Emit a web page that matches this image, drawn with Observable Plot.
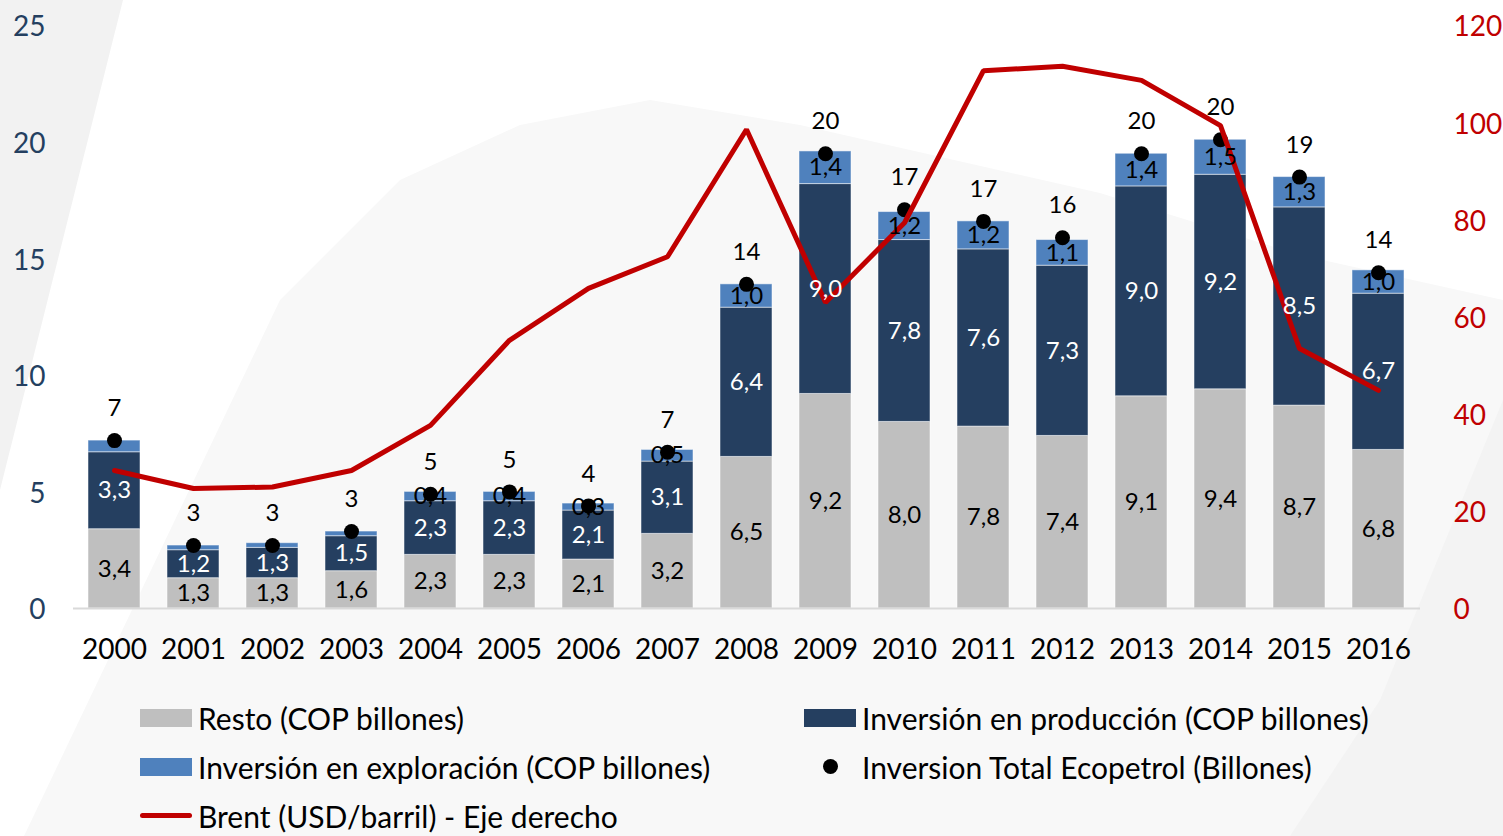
<!DOCTYPE html>
<html>
<head>
<meta charset="utf-8">
<script src="https://cdn.jsdelivr.net/npm/d3@7"></script>
<script src="https://cdn.jsdelivr.net/npm/@observablehq/plot@0.6"></script>
<style>
html, body { margin: 0; padding: 0; background: #ffffff; }
#wrap { position: relative; width: 1503px; height: 836px; overflow: hidden; font-family: Lato, "Open Sans", sans-serif; }
.bg { position: absolute; left: 0; top: 0; width: 1503px; height: 836px; }
.bgA { background: #F8F8F8; clip-path: polygon(24px 836px, 280px 300px, 400px 180px, 520px 125px, 650px 100px, 800px 125px, 1100px 193px, 1300px 255px, 1503px 300px, 1503px 836px); }
.bgB { background: #F2F2F2; clip-path: polygon(0 0, 123px 0, 0 490px); }
.bgC { background: #F3F3F3; clip-path: polygon(1503px 400px, 1380px 700px, 1290px 836px, 1503px 836px); }
#chart { position: absolute; left: 0; top: 0; }
#legend { position: absolute; left: 140px; top: 693px; display: grid; grid-template-columns: 664px auto; grid-auto-rows: 49px; }
.item { display: flex; align-items: center; font-size: 30px; color: #000; white-space: nowrap; line-height: 1; }
.sw { width: 52px; height: 18px; margin-right: 6px; flex: none; display: flex; align-items: center; justify-content: center; }
.sw.dot span { width: 15px; height: 15px; border-radius: 50%; background: #000; display: block; }
.sw.line span { width: 53px; height: 5px; border-radius: 3px; background: #C00000; display: block; }
</style>
</head>
<body>
<div id="wrap">
  <div class="bg bgA"></div>
  <div class="bg bgB"></div>
  <div class="bg bgC"></div>
  <div id="chart"></div>
  <div id="legend"></div>
</div>
<script>
const years = ["2000","2001","2002","2003","2004","2005","2006","2007","2008","2009","2010","2011","2012","2013","2014","2015","2016"];
const resto       = [3.4, 1.3, 1.3, 1.6, 2.3, 2.3, 2.1, 3.2, 6.5, 9.2, 8.0, 7.8, 7.4, 9.1, 9.4, 8.7, 6.8];
const produccion  = [3.3, 1.2, 1.3, 1.5, 2.3, 2.3, 2.1, 3.1, 6.4, 9.0, 7.8, 7.6, 7.3, 9.0, 9.2, 8.5, 6.7];
const exploracion = [0.5, 0.2, 0.2, 0.2, 0.4, 0.4, 0.3, 0.5, 1.0, 1.4, 1.2, 1.2, 1.1, 1.4, 1.5, 1.3, 1.0];
const exploracionConEtiqueta = [false, false, false, false, true, true, true, true, true, true, true, true, true, true, true, true, true];
const inversionTotal = [7.2, 2.7, 2.7, 3.3, 4.9, 5.0, 4.4, 6.7, 13.9, 19.5, 17.1, 16.6, 15.9, 19.5, 20.1, 18.5, 14.4];
const brent = [28.4, 24.7, 25.0, 28.4, 37.7, 55.2, 65.9, 72.4, 98.6, 63.0, 79.4, 110.7, 111.6, 108.7, 99.4, 53.5, 44.9];

const leftTicks = [0, 5, 10, 15, 20, 25];
const rightTicks = [0, 20, 40, 60, 80, 100, 120];

const seriesNames = ["Resto (COP billones)", "Inversión en producción (COP billones)", "Inversión en exploración (COP billones)"];
const seriesColors = ["#BFBFBF", "#253F60", "#4F81BD"];
const totalName = "Inversion Total Ecopetrol (Billones)";
const brentName = "Brent (USD/barril) - Eje derecho";

const k = 25 / 120; // right axis → left axis
const fmt = v => d3.format(".1f")(v).replace(".", ",");

const segs = years.flatMap((yr, i) => {
  const vals = [resto[i], produccion[i], exploracion[i]];
  let acc = 0;
  return vals.map((v, s) => {
    const y1 = acc; acc += v;
    return { year: yr, serie: seriesNames[s], s, y1, y2: acc, ym: (y1 + acc) / 2,
             label: (s < 2 || exploracionConEtiqueta[i]) ? fmt(v) : "" };
  });
});
const totals = years.map((yr, i) => ({ year: yr, total: inversionTotal[i] }));
const brentRows = years.map((yr, i) => ({ year: yr, v: brent[i] * k }));

const chart = Plot.plot({
  width: 1503,
  height: 680,
  marginLeft: 73,
  marginRight: 83,
  marginTop: 25,
  marginBottom: 72,
  style: { background: "transparent", fontFamily: "Lato, 'Open Sans', sans-serif", overflow: "visible" },
  x: { domain: years, paddingInner: 0.34, paddingOuter: 0.17 },
  y: { domain: [0, 25] },
  color: { domain: seriesNames, range: seriesColors },
  marks: [
    Plot.barY(segs, { x: "year", y1: "y1", y2: "y2", fill: "serie", stroke: "#ffffff", strokeOpacity: 0.5, strokeWidth: 1 }),
    Plot.ruleY([0], { stroke: "#D9D9D9", strokeWidth: 2 }),
    Plot.dot(totals, { x: "year", y: "total", r: 7.5, fill: "#000" }),
    Plot.line(brentRows, { x: "year", y: "v", stroke: "#C00000", strokeWidth: 5, strokeLinejoin: "miter" }),
    Plot.text(segs.filter(d => d.s !== 1), { x: "year", y: "ym", text: "label", fill: "#000", fontSize: 24 }),
    Plot.text(segs.filter(d => d.s === 1), { x: "year", y: "ym", text: "label", fill: "#fff", fontSize: 24 }),
    Plot.text(totals, { x: "year", y: "total", text: d => String(Math.round(d.total)), dy: -32, fill: "#000", fontSize: 24 }),
    Plot.axisY({ ticks: leftTicks, anchor: "left", tickSize: 0, tickPadding: 28, dy: 2, fontSize: 28, color: "#243F60", label: null }),
    Plot.axisY({ ticks: rightTicks.map(v => v * k), tickFormat: d => String(Math.round(d / k)), anchor: "right", tickSize: 0, tickPadding: 33, dy: 2, fontSize: 28, color: "#C00000", label: null }),
    Plot.axisX({ tickSize: 0, tickPadding: 31, fontSize: 28, color: "#000", label: null })
  ]
});
document.getElementById("chart").appendChild(chart);

// Legend
const legendItems = [
  { name: seriesNames[0], type: "rect", color: seriesColors[0] },
  { name: seriesNames[1], type: "rect", color: seriesColors[1] },
  { name: seriesNames[2], type: "rect", color: seriesColors[2] },
  { name: totalName, type: "dot" },
  { name: brentName, type: "line" }
];
const leg = d3.select("#legend");
legendItems.forEach(it => {
  const item = leg.append("div").attr("class", "item");
  const sw = item.append("div").attr("class", "sw " + it.type);
  if (it.type === "rect") sw.style("background", it.color);
  else sw.append("span");
  item.append("span").text(it.name);
});
</script>
</body>
</html>
